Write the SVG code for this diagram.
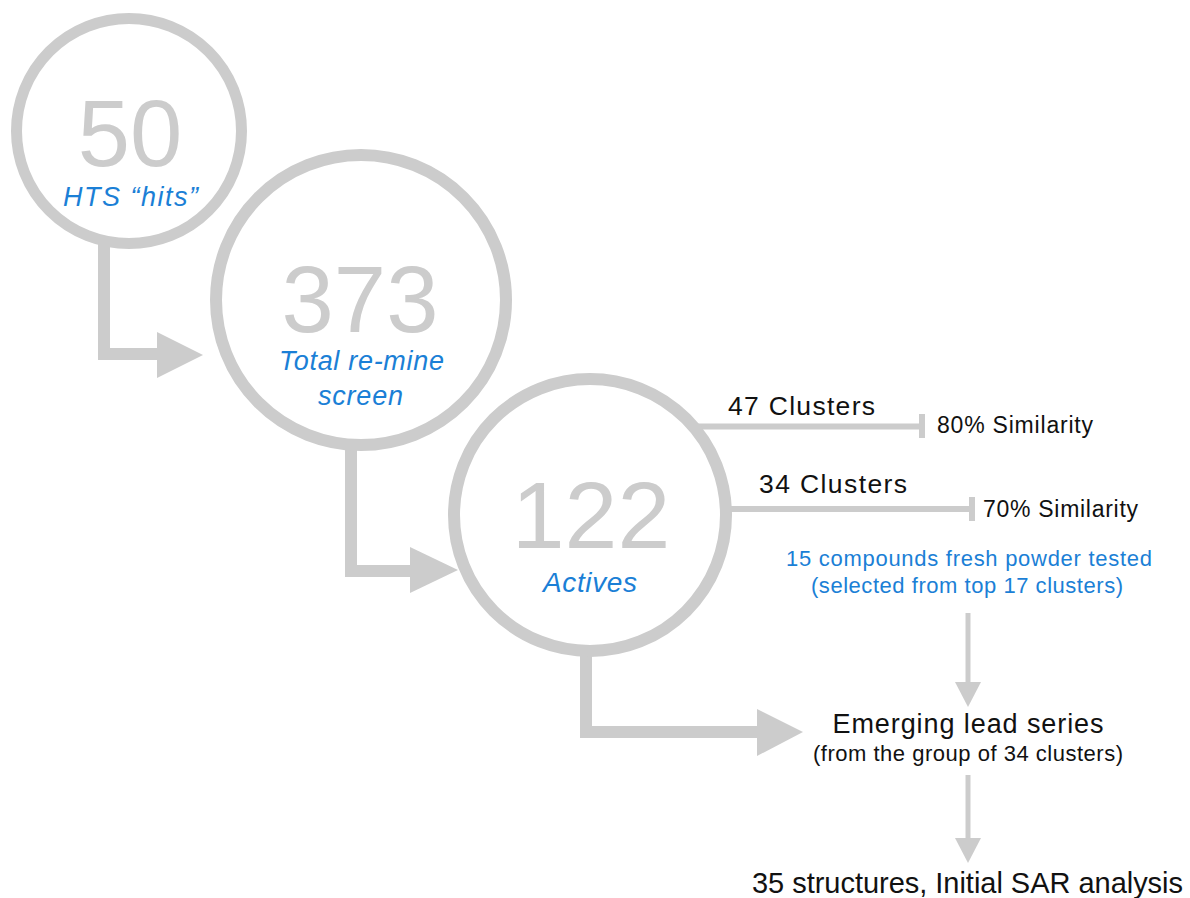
<svg xmlns="http://www.w3.org/2000/svg" width="1190" height="898" viewBox="0 0 1190 898">
  <style>
    .ring { fill: #ffffff; stroke: #cccccc; }
    .big { font-family: "Liberation Sans", Arial, sans-serif; fill: #cccccc; text-anchor: middle; }
    .blue { font-family: "Liberation Sans", Arial, sans-serif; fill: #1b7fd6; text-anchor: middle; }
    .ital { font-style: italic; }
    .dark { font-family: "Liberation Sans", Arial, sans-serif; fill: #111111; }
    .mid { text-anchor: middle; }
    .bar { fill: none; stroke: #cccccc; stroke-width: 12; stroke-linejoin: miter; }
    .thin { fill: none; stroke: #cccccc; stroke-width: 6; }
    .head { fill: #cccccc; }
  </style>

  <rect width="1190" height="898" fill="#ffffff"/>

  <!-- connectors drawn first so the ring fills hide their ends -->
  <g id="connectors">
    <!-- 50 -> 373 -->
    <path class="bar" d="M104,230 V354 H160"/>
    <polygon class="head" points="157,332 203,355 157,378"/>
    <!-- 373 -> 122 -->
    <path class="bar" d="M351,430 V571 H412"/>
    <polygon class="head" points="410,547 458,570 410,593"/>
    <!-- 122 -> lead series -->
    <path class="bar" d="M586,640 V732 H760"/>
    <polygon class="head" points="757,709 803,732 757,756"/>
    <!-- cluster branches -->
    <line class="thin" x1="680" y1="426.5" x2="922" y2="426.5"/>
    <line class="thin" x1="922" y1="414" x2="922" y2="438"/>
    <line class="thin" x1="700" y1="509" x2="972" y2="509"/>
    <line class="thin" x1="972" y1="497" x2="972" y2="521"/>
    <!-- fresh powder -> lead series -->
    <line x1="968" y1="613" x2="968" y2="684" stroke="#cccccc" stroke-width="5"/>
    <polygon class="head" points="955,682 981,682 968,707"/>
    <!-- lead series -> SAR -->
    <line x1="968" y1="775" x2="968" y2="840" stroke="#cccccc" stroke-width="5"/>
    <polygon class="head" points="955,838 981,838 968,863"/>
  </g>

  <g id="node-hts">
    <circle class="ring" cx="129" cy="131" r="112.5" stroke-width="11"/>
    <text class="big" x="130" y="166" font-size="94">50</text>
    <text class="blue ital" x="130.5" y="206" font-size="27" textLength="135">HTS “hits”</text>
  </g>

  <g id="node-remine">
    <circle class="ring" cx="361" cy="300" r="145" stroke-width="12"/>
    <text class="big" x="360" y="332" font-size="94">373</text>
    <text class="blue ital" x="361.5" y="370" font-size="27" textLength="165">Total re-mine</text>
    <text class="blue ital" x="360.5" y="405" font-size="27" textLength="85">screen</text>
  </g>

  <g id="node-actives">
    <circle class="ring" cx="590" cy="515" r="136" stroke-width="12"/>
    <text class="big" x="591" y="548" font-size="95">122</text>
    <text class="blue ital" x="590" y="592" font-size="28" textLength="94">Actives</text>
  </g>

  <g id="branch-47">
    <text class="dark" x="728" y="415" font-size="26.5" textLength="147">47 Clusters</text>
    <text class="dark" x="937" y="433" font-size="23" textLength="156">80% Similarity</text>
  </g>

  <g id="branch-34">
    <text class="dark" x="759" y="493" font-size="26.5" textLength="148">34 Clusters</text>
    <text class="dark" x="983" y="517" font-size="23" textLength="155">70% Similarity</text>
  </g>

  <g id="node-fresh-powder">
    <text class="blue" x="969" y="566" font-size="22" textLength="366">15 compounds fresh powder tested</text>
    <text class="blue" x="967" y="593" font-size="22" textLength="312">(selected from top 17 clusters)</text>
  </g>

  <g id="node-lead-series">
    <text class="dark mid" x="968" y="733" font-size="27" textLength="271">Emerging lead series</text>
    <text class="dark mid" x="968" y="761" font-size="22" textLength="310">(from the group of 34 clusters)</text>
  </g>

  <g id="node-sar">
    <text class="dark mid" x="967.5" y="893" font-size="29" textLength="431">35 structures, Initial SAR analysis</text>
  </g>
</svg>
